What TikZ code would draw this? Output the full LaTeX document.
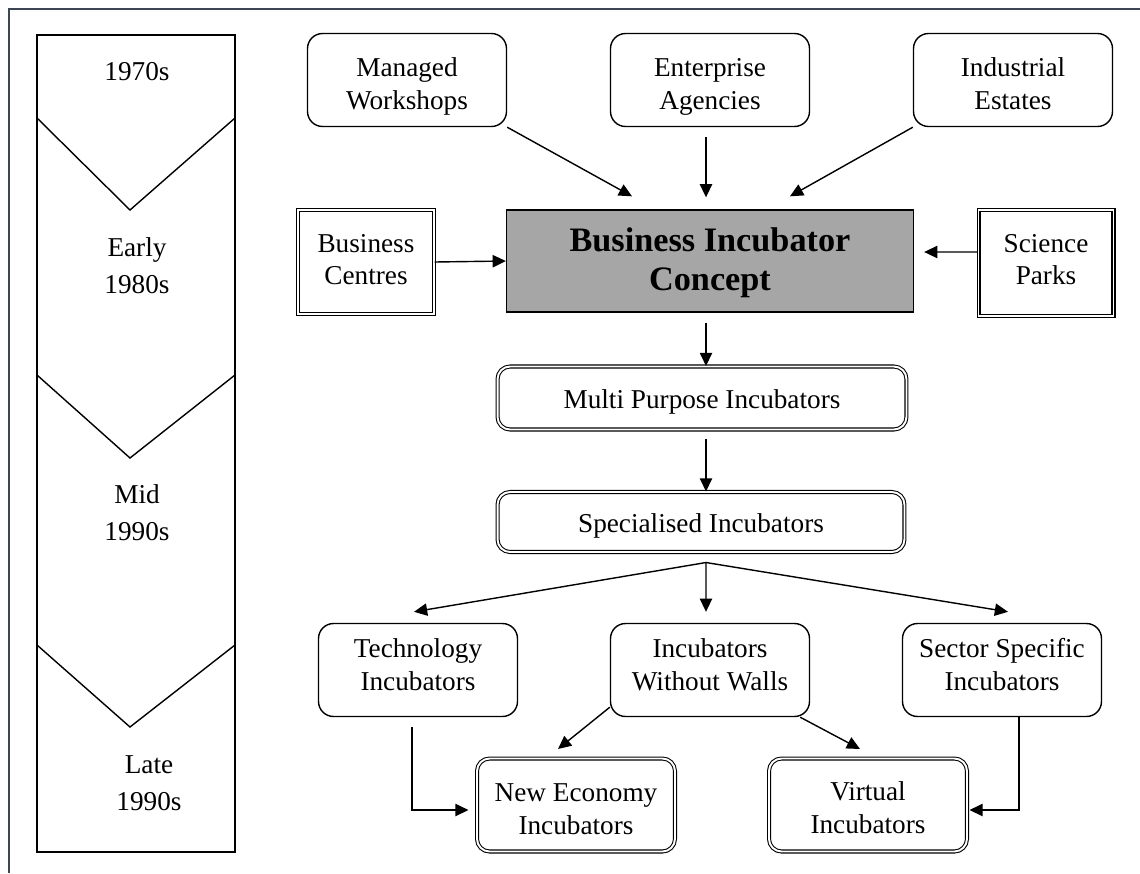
\documentclass[tikz,border=0pt]{standalone}
\usepackage{fontspec}
\setmainfont{Liberation Serif}
\usetikzlibrary{arrows.meta}

\begin{document}
\begin{tikzpicture}[x=0.02cm, y=-0.02cm, line width=0.8pt,
    >={Triangle[length=7.5pt,width=7pt]},
    every node/.style={font=\fontsize{15.5}{18.5}\selectfont, align=center, inner sep=0pt},
    tpos/.style={text height=#1, text depth=5pt},
    tlabel/.style={font=\fontsize{15.5}{21}\selectfont},
    rbox/.style={draw, rounded corners=0.3cm, minimum width=3.98cm, minimum height=1.86cm},
    dbox/.style={draw, double=white, double distance=1.1pt, line width=0.6pt},
    drbox/.style={dbox, rounded corners=0.25cm}]
  \useasboundingbox (0,0) rectangle (1140,873);
  \draw[line width=0.6pt, draw={rgb,255:red,60;green,70;blue,85}] (9,873) -- (9,9) -- (1140,9);

  % time line on the left
  \draw (37,35) rectangle (235,852);
  \foreach \y/\d in {118/92,375/83,645/82}{ \draw (37,\y) -- (130,\y+\d) -- (235,\y); }
  \node[tlabel] (t1) at (137,72) {1970s};
  \node[tlabel] (t2) at (137,266) {Early\\1980s};
  \node[tlabel] (t3) at (137,513) {Mid\\1990s};
  \node[tlabel] (t4) at (149,783) {Late\\1990s};

  \node[rbox, tpos=38.2pt] (mw) at (407,80) {Managed\\Workshops};
  \node[rbox, tpos=38.2pt] (ea) at (710,80) {Enterprise\\Agencies};
  \node[rbox, tpos=38.2pt] (ie) at (1013,80) {Industrial\\Estates};
  \node[dbox, tpos=31pt, minimum width=2.72cm, minimum height=2.08cm] (bc) at (366,262) {Business\\Centres};
  \node[dbox, tpos=29.8pt, minimum width=2.7cm, minimum height=2.12cm] (sp) at (1046,263) {Science\\Parks};
  \node[draw, fill=black!35, tpos=38.7pt, minimum width=8.14cm, minimum height=2.04cm,
        font=\fontsize{19.5}{22.5}\selectfont\bfseries] (bic) at (710,261) {Business Incubator\\Concept};
  \node[drbox, tpos=16.4pt, minimum width=8.18cm, minimum height=1.26cm] (mpi) at (702,398) {Multi Purpose Incubators};
  \node[drbox, tpos=16.4pt, minimum width=8.14cm, minimum height=1.2cm] (spec) at (701,522) {Specialised Incubators};
  \node[rbox, tpos=28pt] (ti) at (418,670) {Technology\\Incubators};
  \node[rbox, tpos=28pt] (iww) at (710,670) {Incubators\\Without Walls};
  \node[rbox, tpos=28pt] (ss) at (1002,670) {Sector Specific\\Incubators};
  \node[drbox, tpos=38.2pt, minimum width=3.96cm, minimum height=1.86cm] (ne) at (576,805) {New Economy\\Incubators};
  \node[drbox, tpos=37.2pt, minimum width=3.96cm, minimum height=1.86cm] (vi) at (868,805) {Virtual\\Incubators};

  \draw[->] (mw.south east) -- ([xshift=-1.56cm,yshift=0.26cm]bic.north);
  \draw[->, shorten <=0.2cm, shorten >=0.24cm] ([xshift=-0.08cm]ea.south) -- ([xshift=-0.08cm]bic.north);
  \draw[->] (ie.south west) -- ([xshift=1.6cm,yshift=0.26cm]bic.north);
  \draw[->] (bc.east) -- (bic.west);
  \draw[->, shorten >=0.2cm] ([yshift=0.22cm]sp.west) -- ([yshift=0.18cm]bic.east);
  \draw[->, shorten <=0.2cm] ([xshift=-0.08cm]bic.south) -- ([xshift=-0.08cm]bic.south |- mpi.north);
  \draw[->, shorten <=0.18cm] ([xshift=0.08cm]mpi.south) -- ([xshift=0.08cm]mpi.south |- spec.north);

  \coordinate (fan) at ([xshift=0.1cm,yshift=-0.2cm]spec.south);
  \draw[->] (fan) -- ([xshift=-0.08cm,yshift=0.22cm]ti.north);
  \draw[->] (fan) -- ([xshift=-0.08cm,yshift=0.22cm]iww.north);
  \draw[->] (fan) -- ([xshift=0.12cm,yshift=0.22cm]ss.north);

  \draw[->] ([yshift=0.2cm]iww.south west) -- ([xshift=-0.36cm,yshift=0.18cm]ne.north);
  \draw[->] ([xshift=-0.2cm]iww.south east) -- ([xshift=-0.16cm,yshift=0.18cm]vi.north);
  \draw[->] ([xshift=-0.12cm,yshift=-0.2cm]ti.south) |- ([xshift=-0.16cm,yshift=-0.1cm]ne.west);
  \draw[->] ([xshift=0.34cm]ss.south) |- ([xshift=0.04cm,yshift=-0.1cm]vi.east);
\end{tikzpicture}
\end{document}
